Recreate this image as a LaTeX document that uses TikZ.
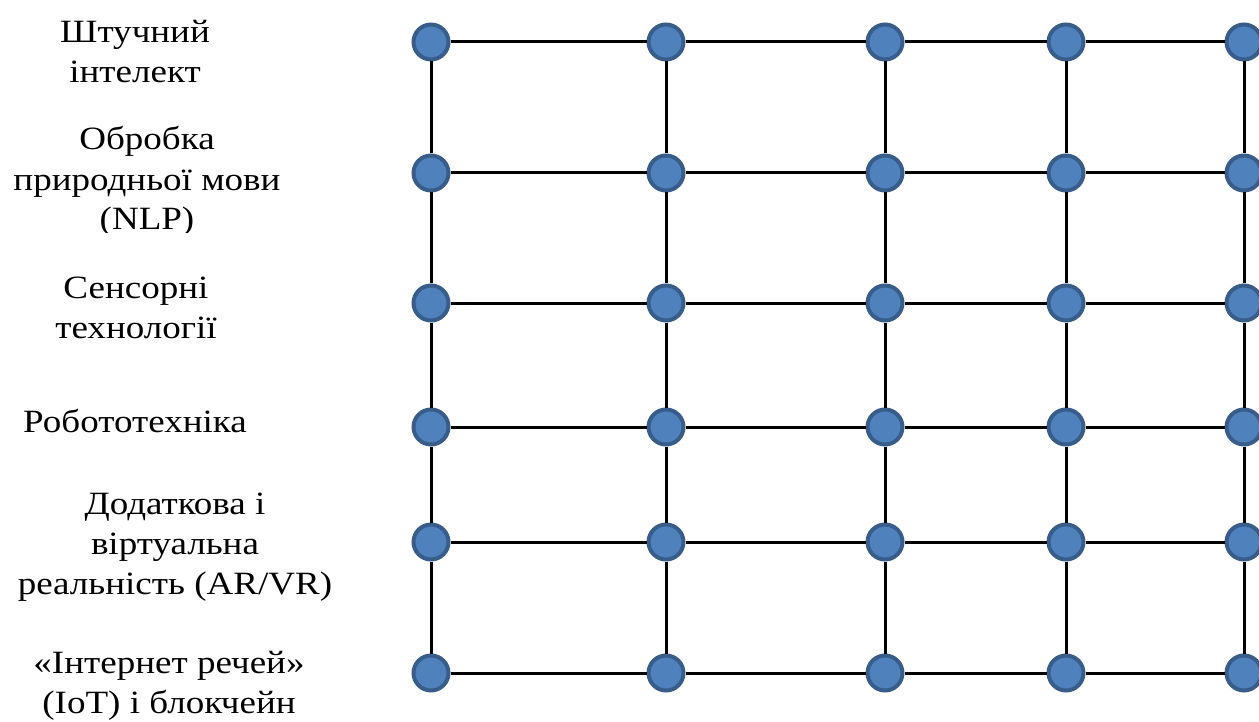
\documentclass[tikz,border=0pt]{standalone}
\usepackage{fontspec}
\setmainfont[FakeStretch=1.14]{Liberation Serif}
\definecolor{nodefill}{HTML}{4F81BD}
\definecolor{nodeline}{HTML}{385D8A}
\begin{document}
\begin{tikzpicture}[x=1pt,y=-1pt,
  dot/.style={circle,fill=nodefill,draw=nodeline,line width=4pt,minimum size=35pt,inner sep=0pt},
  grid/.style={black,line width=3pt},
  lab/.style={font=\fontsize{32.5}{40}\selectfont,align=center,anchor=base,inner sep=0pt}]
\useasboundingbox (0,0) rectangle (1259,722);
% labels (anchored at the baseline of the last line)
\node[lab] (l1) at (135,83) {Штучний\\інтелект};
\begin{scope}
\clip (0,100) rectangle (400,233);
\node[lab] (l2) at (147,230) {Обробка\\природньої мови\\(NLP)};
\end{scope}
\node[lab] (l3) at (136,338) {Сенсорні\\технології};
\node[lab] (l4) at (135,432) {Робототехніка};
\node[lab] (l5) at (175,594) {Додаткова і\\віртуальна\\реальність (AR/VR)};
\node[lab] (l6) at (169,713) {«Інтернет речей»\\(IoT) і блокчейн};
% nodes
\foreach \c/\x in {1/431,2/666,3/885,4/1066,5/1244}{
  \foreach \r/\y in {1/42,2/173,3/303,4/427,5/542,6/673}{
    \node[dot] (n\r\c) at (\x,\y) {};
  }
}
% connectors
\foreach \r in {1,...,6}{
  \draw[grid] (n\r1) -- (n\r2);
  \draw[grid] (n\r2) -- (n\r3);
  \draw[grid] (n\r3) -- (n\r4);
  \draw[grid] (n\r4) -- (n\r5);
}
\foreach \c in {1,...,5}{
  \draw[grid] (n1\c) -- (n2\c);
  \draw[grid] (n2\c) -- (n3\c);
  \draw[grid] (n3\c) -- (n4\c);
  \draw[grid] (n4\c) -- (n5\c);
  \draw[grid] (n5\c) -- (n6\c);
}
\end{tikzpicture}
\end{document}
